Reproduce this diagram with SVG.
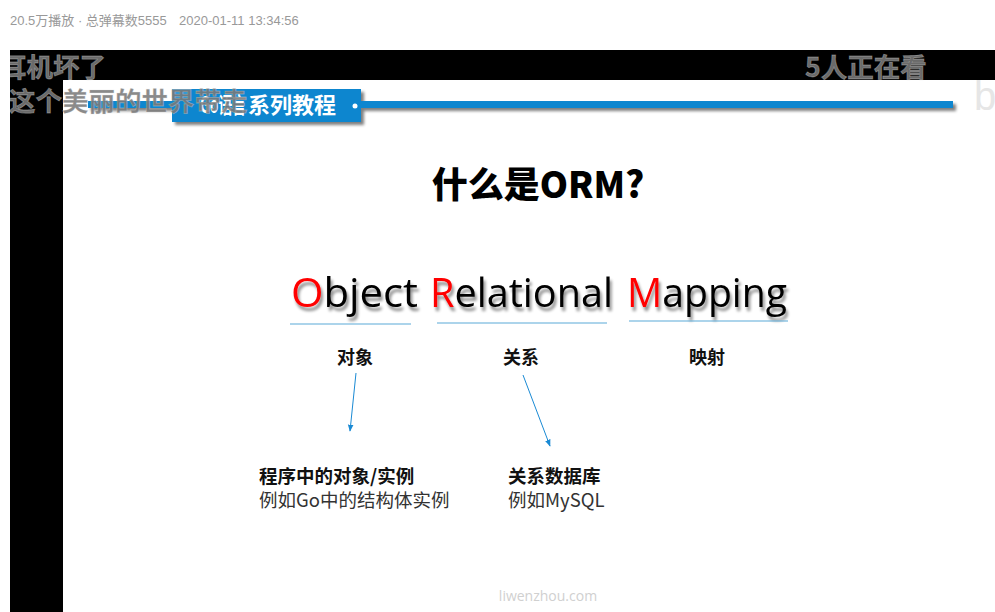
<svg xmlns="http://www.w3.org/2000/svg" width="995" height="612" viewBox="0 0 995 612">
<defs>
<filter id="sh" x="-10%" y="-50%" width="130%" height="250%"><feGaussianBlur in="SourceAlpha" stdDeviation="1.5"/><feOffset dx="3" dy="3"/><feComponentTransfer><feFuncA type="linear" slope="0.5"/></feComponentTransfer><feMerge><feMergeNode/><feMergeNode in="SourceGraphic"/></feMerge></filter>
<filter id="tsh" x="-5%" y="-20%" width="115%" height="150%"><feGaussianBlur in="SourceAlpha" stdDeviation="1.8"/><feOffset dx="2" dy="4"/><feComponentTransfer><feFuncA type="linear" slope="0.45"/></feComponentTransfer><feMerge><feMergeNode/><feMergeNode in="SourceGraphic"/></feMerge></filter>
<marker id="ah" viewBox="0 0 10 10" refX="9" refY="5" markerWidth="7" markerHeight="7" orient="auto" markerUnits="userSpaceOnUse"><path d="M0,1 L10,5 L0,9 z" fill="#1a8ad4"/></marker>
<clipPath id="vid"><rect x="10" y="50" width="985" height="562"/></clipPath>
</defs>
<style>
.meta{font-family:"Liberation Sans","Noto Sans CJK SC",sans-serif;font-size:13px;fill:#999}
.dm{font-family:"Noto Sans CJK SC","Liberation Sans",sans-serif;font-size:26.5px;font-weight:bold;fill:#7a7a7a;fill-opacity:0.9;stroke:#e8e8e8;stroke-opacity:0.35;stroke-width:0.8}
.orm{font-family:"Open Sans","Noto Sans",sans-serif;font-size:40px;fill:#000}
.red{fill:#ff0000}
.lbl{font-family:"Noto Sans CJK SC",sans-serif;font-size:18px;font-weight:bold;fill:#111}
.sub1{font-family:"Noto Sans CJK SC",sans-serif;font-size:18.5px;font-weight:bold;fill:#111}
.sub2{font-family:"Noto Sans CJK SC",sans-serif;font-size:18.5px;fill:#333}
.ul{stroke:#5aa9d8;stroke-width:1.2}
.arr{stroke:#1a8ad4;stroke-width:1;fill:none;marker-end:url(#ah)}
</style>
<rect width="995" height="612" fill="#ffffff"/>
<text class="meta" x="10" y="25">20.5万播放 · 总弹幕数5555</text>
<text class="meta" x="179" y="25">2020-01-11 13:34:56</text>
<rect x="10" y="50" width="985" height="562" fill="#000"/>
<rect x="63" y="80" width="932" height="532" fill="#fff"/>
<g id="header" filter="url(#sh)">
<rect x="88" y="101" width="865" height="7" fill="#0a86cf"/>
<rect x="172" y="89" width="189" height="33" fill="#0a86cf"/>
</g>
<text y="113" font-family="Noto Sans CJK SC,sans-serif" font-size="22" font-weight="bold" fill="#fff"><tspan x="200" textLength="46" lengthAdjust="spacingAndGlyphs">Go语言</tspan><tspan x="248">系列教程</tspan></text>
<circle cx="355" cy="106" r="2.5" fill="#fff"/>
<g id="title"><text x="538" y="198" text-anchor="middle" font-family="Noto Sans CJK SC,sans-serif" font-size="36" font-weight="900" fill="#000">什么是ORM?</text></g>
<g id="orm" filter="url(#tsh)">
<text class="orm" x="291" y="307" textLength="127" lengthAdjust="spacingAndGlyphs"><tspan class="red">O</tspan>bject</text>
<text class="orm" x="430" y="307" textLength="183" lengthAdjust="spacingAndGlyphs"><tspan class="red">R</tspan>elational</text>
<text class="orm" x="627" y="307" textLength="160" lengthAdjust="spacingAndGlyphs"><tspan class="red">M</tspan>apping</text>
</g>
<g id="underlines">
<line class="ul" x1="290" y1="324" x2="411" y2="324"/>
<line class="ul" x1="437" y1="323" x2="607" y2="323"/>
<line class="ul" x1="629" y1="321" x2="788" y2="321"/>
</g>
<g id="n-object"><text class="lbl" x="337" y="364">对象</text></g>
<g id="n-relation"><text class="lbl" x="503" y="364">关系</text></g>
<g id="n-mapping"><text class="lbl" x="689" y="364">映射</text></g>
<g id="connectors">
<line class="arr" x1="356" y1="373" x2="350" y2="431"/>
<line class="arr" x1="523" y1="375" x2="550" y2="446"/>
</g>
<g id="n-program"><text class="sub1" x="259" y="483">程序中的对象/实例</text><text class="sub2" x="259" y="507">例如Go中的结构体实例</text></g>
<g id="n-db"><text class="sub1" x="508" y="483">关系数据库</text><text class="sub2" x="508" y="507">例如MySQL</text></g>
<text x="548" y="601" text-anchor="middle" font-family="Open Sans,sans-serif" font-size="14" fill="#d0d0d0">liwenzhou.com</text>
<g clip-path="url(#vid)">
<text class="dm" x="0" y="77">耳机坏了</text>
<text class="dm" x="9" y="111">这个美丽的世界带走</text>
<text class="dm" x="805" y="77">5人正在看</text>
<text x="974" y="110" font-family="Liberation Sans,sans-serif" font-size="40" fill="#e6e6e6">b</text>
</g>
</svg>
